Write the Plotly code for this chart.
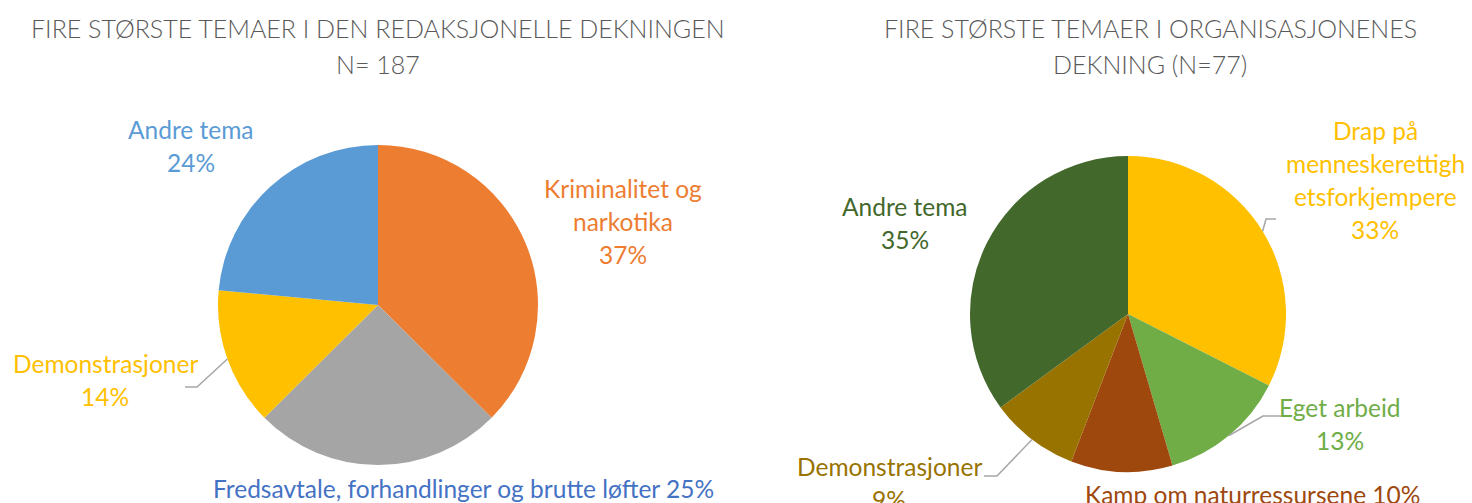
import math

import plotly.graph_objects as go

W, H = 1472, 503
OFF = 8  # default page margin around the plot div

# ---------------------------------------------------------------------------
# Data
# ---------------------------------------------------------------------------
left_title = ["FIRE STØRSTE TEMAER I DEN REDAKSJONELLE DEKNINGEN", "N= 187"]
left_labels = [
    "Kriminalitet og narkotika",
    "Fredsavtale, forhandlinger og brutte løfter",
    "Demonstrasjoner",
    "Andre tema",
]
left_label_lines = [
    ["Kriminalitet og", "narkotika"],
    ["Fredsavtale, forhandlinger og brutte løfter"],
    ["Demonstrasjoner"],
    ["Andre tema"],
]
left_values = [70, 47, 26, 44]          # counts, N = 187
left_pct = ["37%", "25%", "14%", "24%"]
left_colors = ["#ED7D31", "#A5A5A5", "#FFC000", "#5B9BD5"]
left_text_colors = ["#ED7D31", "#4472C4", "#FFC000", "#5B9BD5"]

right_title = ["FIRE STØRSTE TEMAER I ORGANISASJONENES", "DEKNING (N=77)"]
right_labels = [
    "Drap på menneskerettighetsforkjempere",
    "Eget arbeid",
    "Kamp om naturressursene",
    "Demonstrasjoner",
    "Andre tema",
]
right_label_lines = [
    ["Drap på", "menneskerettigh", "etsforkjempere"],
    ["Eget arbeid"],
    ["Kamp om naturressursene"],
    ["Demonstrasjoner"],
    ["Andre tema"],
]
right_values = [25, 10, 8, 7, 27]       # counts, N = 77
right_pct = ["33%", "13%", "10%", "9%", "35%"]
right_colors = ["#FFC000", "#70AD47", "#9E480E", "#997300", "#43682B"]
right_text_colors = right_colors

# ---------------------------------------------------------------------------
# Layout (pixels in the screenshot)
# ---------------------------------------------------------------------------
FONT = "Lato"
LABEL_SIZE = 24.5
TITLE_SIZE = 25
LINE_GAP = 33

pies = [
    dict(
        cx=378, cy=305, r=160,
        title=left_title, title_x=378,
        labels=left_labels, lines=left_label_lines, values=left_values,
        pct=left_pct, colors=left_colors, text_colors=left_text_colors,
        # label block centre (x, y) and whether the % goes on its own line
        label_pos=[(623, 221, True), (463, 488, False), (105, 380, True), (191, 146, True)],
        # leader lines: slice index -> (elbow, end)
        leaders={2: ((197, 387), (185, 387))},
    ),
    dict(
        cx=1128, cy=314, r=158,
        title=right_title, title_x=1150,
        labels=right_labels, lines=right_label_lines, values=right_values,
        pct=right_pct, colors=right_colors, text_colors=right_text_colors,
        label_pos=[(1375, 180, True), (1340, 424, True), (1252, 494, False),
                   (889, 483, True), (905, 223, True)],
        leaders={
            0: ((1266, 219), (1276, 219)),
            1: ((1263, 416), (1283, 416)),
            3: ((997, 476), (984, 476)),
        },
    ),
]

FW, FH = W - OFF, H - OFF


def px(x):
    return (x - OFF) / FW


def py(y):
    return 1 - (y - OFF) / FH


fig = go.Figure()
annotations = []
shapes = []

for p in pies:
    total = sum(p["values"])
    fig.add_trace(
        go.Pie(
            labels=p["labels"],
            values=p["values"],
            sort=False,
            direction="clockwise",
            rotation=0,
            textinfo="none",
            hoverinfo="label+percent",
            marker=dict(colors=p["colors"], line=dict(width=0)),
            domain=dict(
                x=[px(p["cx"] - p["r"]), px(p["cx"] + p["r"])],
                y=[py(p["cy"] + p["r"]), py(p["cy"] - p["r"])],
            ),
            showlegend=False,
        )
    )

    # titles
    for i, line in enumerate(p["title"]):
        annotations.append(dict(
            x=px(p["title_x"]), y=py(28 + i * 36), xref="paper", yref="paper",
            text=line, showarrow=False, xanchor="center", yanchor="middle",
            font=dict(family=FONT, size=TITLE_SIZE, color="#595959", weight=300),
        ))

    # data labels
    cum = 0
    for i, v in enumerate(p["values"]):
        pct = p["pct"][i]
        lines = list(p["lines"][i])
        lx, ly, sep = p["label_pos"][i]
        if sep:
            lines.append(pct)
        else:
            lines[-1] = f"{lines[-1]} {pct}"
        n = len(lines)
        for j, line in enumerate(lines):
            annotations.append(dict(
                x=px(lx), y=py(ly + (j - (n - 1) / 2) * LINE_GAP),
                xref="paper", yref="paper", text=line, showarrow=False,
                xanchor="center", yanchor="middle",
                font=dict(family=FONT, size=LABEL_SIZE, color=p["text_colors"][i]),
            ))

        # leader line from slice edge (mid angle) to label
        mid = (cum + v / 2) / total * 2 * math.pi
        cum += v
        if i in p["leaders"]:
            (ex, ey), (tx, ty) = p["leaders"][i]
            sx = p["cx"] + p["r"] * math.sin(mid)
            sy = p["cy"] - p["r"] * math.cos(mid)
            shapes.append(dict(
                type="path", xref="paper", yref="paper",
                path=f"M {px(sx)} {py(sy)} L {px(ex)} {py(ey)} L {px(tx)} {py(ty)}",
                line=dict(color="#A6A6A6", width=1.5),
            ))

fig.update_layout(
    width=FW,
    height=FH,
    margin=dict(l=0, r=0, t=0, b=0),
    paper_bgcolor="white",
    plot_bgcolor="white",
    annotations=annotations,
    shapes=shapes,
)

fig.write_html("out.html")
